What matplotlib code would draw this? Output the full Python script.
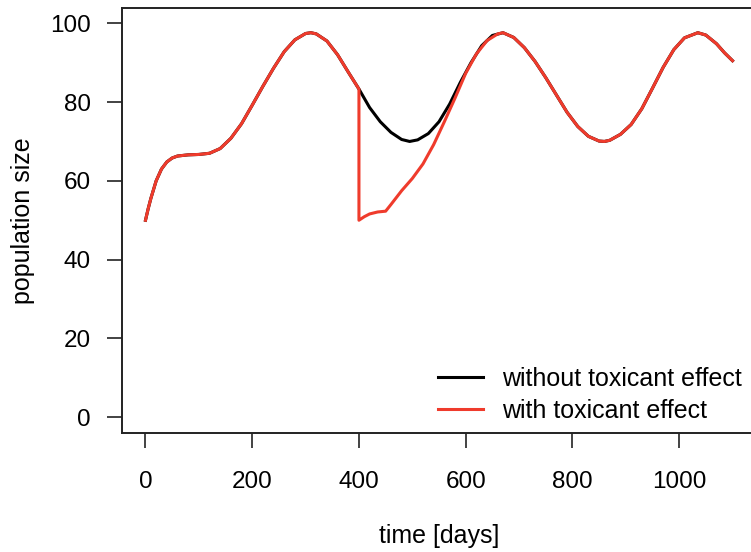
import matplotlib
matplotlib.use("Agg")
from matplotlib import pyplot as plt

# Set constants
font = {'family': 'Liberation Sans', 'size': 17.5}
matplotlib.rc('font', **font)

RED = "#EF3B2C"

# population without toxicant effect
days = [0, 5, 10, 20, 30, 40, 50, 60, 80, 100, 120, 140, 160, 180, 200, 220,
        240, 260, 280, 300, 310, 320, 340, 360, 380, 400, 420, 440, 460, 480,
        495, 510, 530, 550, 570, 590, 610, 630, 650, 670, 690, 710, 730, 750,
        770, 790, 810, 830, 850, 860, 870, 890, 910, 930, 950, 970, 990, 1010,
        1035, 1050, 1070, 1085, 1100]
pop_control = [50, 52.9, 55.5, 60, 63, 64.8, 65.8, 66.3, 66.6, 66.7, 67, 68.2,
               70.8, 74.5, 79.2, 84, 88.6, 92.8, 95.8, 97.4, 97.6, 97.3, 95.5,
               92, 87.6, 83.3, 78.6, 75, 72.3, 70.5, 70, 70.4, 72, 75, 79.5,
               85, 90, 94.3, 96.9, 97.6, 96.4, 93.8, 90.3, 86.2, 81.8, 77.4,
               73.8, 71.3, 70.1, 70, 70.3, 71.8, 74.3, 78.3, 83.5, 88.8, 93.3,
               96.3, 97.6, 97, 94.8, 92.5, 90.5]

# population with toxicant effect: exposure at day 400
days_tox = [0, 5, 10, 20, 30, 40, 50, 60, 80, 100, 120, 140, 160, 180, 200,
            220, 240, 260, 280, 300, 310, 320, 340, 360, 380, 400, 400, 410,
            420, 435, 450, 460, 480, 500, 520, 540, 560, 580, 600, 620, 640,
            660, 670, 690, 710, 730, 750, 770, 790, 810, 830, 850, 860, 870,
            890, 910, 930, 950, 970, 990, 1010, 1035, 1050, 1070, 1085, 1100]
pop_tox = [50, 52.9, 55.5, 60, 63, 64.8, 65.8, 66.3, 66.6, 66.7, 67, 68.2,
           70.8, 74.5, 79.2, 84, 88.6, 92.8, 95.8, 97.4, 97.6, 97.3, 95.5, 92,
           87.6, 83.3, 50, 50.9, 51.6, 52.1, 52.3, 54, 57.5, 60.6, 64.3, 69.2,
           75, 81, 87.3, 92.2, 95.6, 97.3, 97.6, 96.4, 93.8, 90.3, 86.2, 81.8,
           77.4, 73.8, 71.3, 70.1, 70, 70.3, 71.8, 74.3, 78.3, 83.5, 88.8,
           93.3, 96.3, 97.6, 97, 94.8, 92.5, 90.5]

x_ticks = [0, 200, 400, 600, 800, 1000]
y_ticks = [0, 20, 40, 60, 80, 100]


def main():
    W, H = 751, 552
    fig = plt.figure(figsize=(W / 100, H / 100), dpi=100)
    left, right, top, bottom = 122, 756, 7.5, 433
    ax = fig.add_axes([left / W, 1 - bottom / H, (right - left) / W, (bottom - top) / H])

    ax.plot(days, pop_control, color="black", lw=2.2, label="without toxicant effect")
    ax.plot(days_tox, pop_tox, color=RED, lw=2.2, label="with toxicant effect")

    ax.set_xlim(-44, 1144)
    ax.set_ylim(-4, 104)
    ax.set_xticks(x_ticks)
    ax.set_yticks(y_ticks)
    for s in ax.spines.values():
        s.set_linewidth(1.4)
        s.set_color("#222222")
    ax.tick_params(length=10.5, width=1.2, color="#222222")
    ax.tick_params(axis="x", pad=16.5)
    ax.tick_params(axis="y", pad=12)
    ax.set_xlabel("time [days]", fontsize=18, labelpad=23)
    ax.set_ylabel("population size", fontsize=18, labelpad=11)

    ax.legend(loc="upper left", bbox_to_anchor=(438 / W, 1 - 367 / H),
              bbox_transform=fig.transFigure, frameon=False, borderpad=0,
              borderaxespad=0, handlelength=1.8, handletextpad=0.78,
              labelspacing=0.3, fontsize=18)

    # save the plot
    fig.savefig("out.png", dpi=100)


if __name__ == '__main__':
    main()
